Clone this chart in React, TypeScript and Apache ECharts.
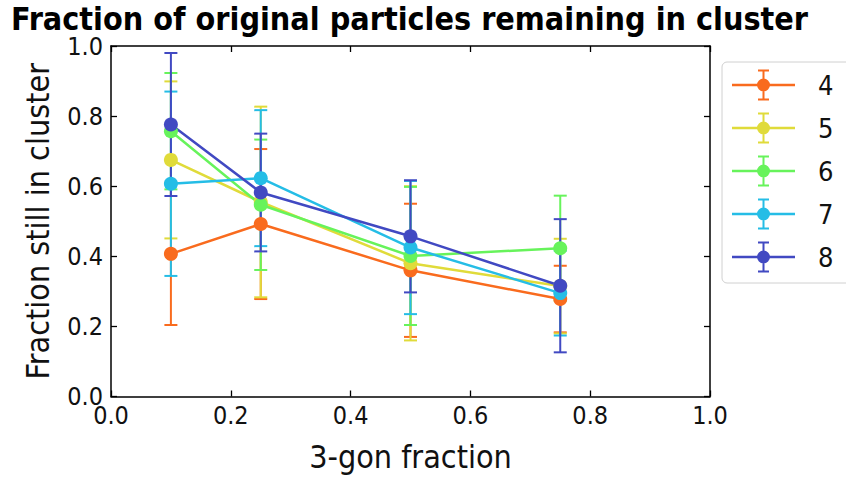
import React, { useEffect, useRef } from "react";
import * as echarts from "echarts";

// ---- data ----
const fractions = [0.1, 0.25, 0.5, 0.75];
const seriesNames = ["4", "5", "6", "7", "8"];
const means4 = [0.407, 0.492, 0.36, 0.278];
const means5 = [0.675, 0.555, 0.38, 0.315];
const means6 = [0.757, 0.547, 0.401, 0.423];
const means7 = [0.607, 0.623, 0.425, 0.295];
const means8 = [0.776, 0.582, 0.457, 0.316];
const errs4 = [0.203, 0.214, 0.19, 0.095];
const errs5 = [0.224, 0.272, 0.22, 0.135];
const errs6 = [0.166, 0.186, 0.197, 0.15];
const errs7 = [0.263, 0.194, 0.19, 0.121];
const errs8 = [0.204, 0.168, 0.16, 0.19];
const xTickLabels = ["0.0", "0.2", "0.4", "0.6", "0.8", "1.0"];
const yTickLabels = ["0.0", "0.2", "0.4", "0.6", "0.8", "1.0"];

const allMeans = [means4, means5, means6, means7, means8];
const allErrs = [errs4, errs5, errs6, errs7, errs8];
const colors = ["#F96B1E", "#E0DB3A", "#67F35B", "#25BDE6", "#4149C2"];

const FONT = '"DejaVu Sans Condensed", "DejaVu Sans", sans-serif';
const TXT = "#111";

const LEGEND_ICON =
  "path://M0 14.3H63V16.7H0Z M30.5 0H32.5V31H30.5Z M26 0H37V2H26Z M26 29H37V31H26Z M25 15.5A6.5 6.5 0 1 1 38 15.5A6.5 6.5 0 1 1 25 15.5Z";

export default function App() {
  const ref = useRef<HTMLDivElement>(null);
  useEffect(() => {
    if (!ref.current) return;
    const chart = echarts.init(ref.current, undefined, { renderer: "svg" });

    const errSeries = seriesNames.map((name, i) => ({
      type: "custom",
      name: name + " err",
      z: 1,
      silent: true,
      xAxisIndex: 0,
      yAxisIndex: 0,
      encode: { x: 0, y: [1, 2] },
      data: fractions.map((x, j) => [x, allMeans[i][j] - allErrs[i][j], allMeans[i][j] + allErrs[i][j]]),
      renderItem: (params: any, api: any) => {
        const x = api.value(0);
        const lo = api.coord([x, api.value(1)]);
        const hi = api.coord([x, api.value(2)]);
        const hw = 6.5;
        const st = { stroke: colors[i], lineWidth: 2 };
        return {
          type: "group",
          children: [
            { type: "line", shape: { x1: hi[0], y1: hi[1], x2: lo[0], y2: lo[1] }, style: st },
            { type: "line", shape: { x1: hi[0] - hw, y1: hi[1], x2: hi[0] + hw, y2: hi[1] }, style: st },
            { type: "line", shape: { x1: lo[0] - hw, y1: lo[1], x2: lo[0] + hw, y2: lo[1] }, style: st },
          ],
        };
      },
    }));

    const lineSeries = seriesNames.map((name, i) => ({
      type: "line",
      name,
      z: 2,
      symbol: "circle",
      symbolSize: 14,
      showSymbol: true,
      silent: true,
      lineStyle: { color: colors[i], width: 2.5 },
      itemStyle: { color: colors[i], borderWidth: 0 },
      emphasis: { disabled: true },
      data: fractions.map((x, j) => [x, allMeans[i][j]]),
    }));

    const baseAxisLine = { show: true, onZero: false, lineStyle: { color: "#000", width: 1.5 } };
    const tick = { show: true, inside: true, length: 6, lineStyle: { color: "#000", width: 1.3 } };

    chart.setOption({
      animation: false,
      title: {
        text: "Fraction of original particles remaining in cluster",
        left: 6,
        top: -2,
        textStyle: { fontFamily: FONT, fontSize: 32, fontWeight: "bold", color: "#000" },
      },
      grid: { left: 111, right: 136, top: 46, bottom: 82.5, containLabel: false },
      legend: {
        orient: "vertical",
        left: 722,
        top: 62,
        padding: [7.5, 30, 10.5, 10],
        itemWidth: 63,
        itemHeight: 31,
        itemGap: 12,
        backgroundColor: "#fff",
        borderColor: "#d0d0d0",
        borderWidth: 1,
        borderRadius: 5,
        textStyle: { fontFamily: FONT, fontSize: 27, color: TXT, padding: [0, 0, 0, 18] },
        itemStyle: { borderWidth: 0 },
        data: seriesNames.map((name, i) => ({
          name,
          icon: LEGEND_ICON,
          itemStyle: { color: colors[i], borderWidth: 0 },
        })),
        selectedMode: false,
      },
      xAxis: [
        {
          type: "value",
          min: 0,
          max: 1,
          interval: 0.2,
          name: "3-gon fraction",
          nameLocation: "middle",
          nameGap: 44,
          nameTextStyle: { fontFamily: FONT, fontSize: 32, color: TXT },
          axisLine: baseAxisLine,
          axisTick: tick,
          splitLine: { show: false },
          axisLabel: {
            fontFamily: FONT,
            fontSize: 25,
            color: TXT,
            margin: 6,
            formatter: (v: number) => xTickLabels[Math.round(v * 5)] ?? v.toFixed(1),
          },
        },
        {
          type: "value",
          position: "top",
          min: 0,
          max: 1,
          interval: 0.2,
          axisLine: baseAxisLine,
          axisTick: tick,
          axisLabel: { show: false },
          splitLine: { show: false },
        },
      ],
      yAxis: [
        {
          type: "value",
          min: 0,
          max: 1,
          interval: 0.2,
          name: "Fraction still in cluster",
          nameLocation: "middle",
          nameGap: 57,
          nameTextStyle: { fontFamily: FONT, fontSize: 32, color: TXT },
          axisLine: baseAxisLine,
          axisTick: tick,
          splitLine: { show: false },
          axisLabel: {
            fontFamily: FONT,
            fontSize: 25,
            color: TXT,
            margin: 8,
            formatter: (v: number) => yTickLabels[Math.round(v * 5)] ?? v.toFixed(1),
          },
        },
        {
          type: "value",
          position: "right",
          min: 0,
          max: 1,
          interval: 0.2,
          axisLine: baseAxisLine,
          axisTick: tick,
          axisLabel: { show: false },
          splitLine: { show: false },
        },
      ],
      series: [...errSeries, ...lineSeries],
    });
    return () => chart.dispose();
  }, []);
  return (
    <div
      ref={ref}
      style={{ position: "fixed", left: 0, top: 0, width: 846, height: 479, background: "#fff" }}
    />
  );
}
